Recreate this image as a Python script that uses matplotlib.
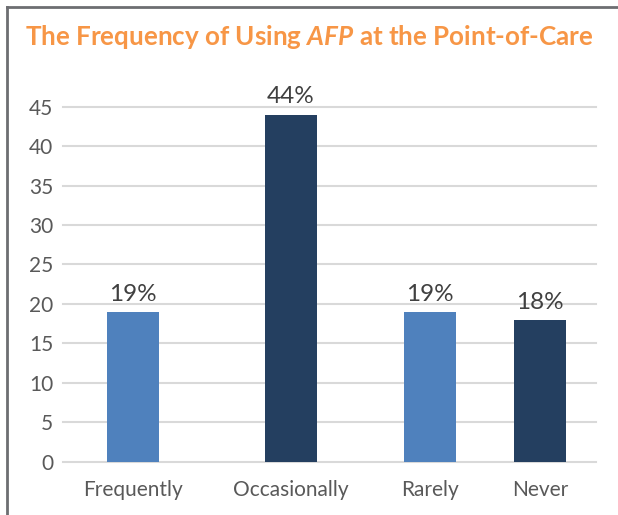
import matplotlib
matplotlib.use("Agg")
import matplotlib.pyplot as plt
from matplotlib.lines import Line2D

categories = ["Frequently", "Occasionally", "Rarely", "Never"]
values = [19, 44, 19, 18]
value_labels = ["19%", "44%", "19%", "18%"]
yticks = [0, 5, 10, 15, 20, 25, 30, 35, 40, 45]

# layout (not data)
positions = [70, 228, 367, 477]
bar_colors = ["#4F81BD", "#243F60", "#4F81BD", "#243F60"]

plt.rcParams['font.family'] = ['Lato', 'DejaVu Sans']
plt.rcParams['mathtext.fontset'] = 'custom'
plt.rcParams['mathtext.it'] = 'Lato:italic:bold'
plt.rcParams['mathtext.rm'] = 'Lato:bold'
plt.rcParams['mathtext.bf'] = 'Lato:bold'

fig = plt.figure(figsize=(6.18, 5.15), dpi=100)
ax = fig.add_axes([63/618, 53.3/515, (596-63)/618, (461.7-106.7)/515])

ax.bar(positions, values, width=52, color=bar_colors, zorder=3)
for x, v, lab in zip(positions, values, value_labels):
    ax.text(x, v + 0.9, lab, ha='center', va='bottom', fontsize=17.5,
            color='#404040')

ax.set_xlim(0, 533)
ax.set_ylim(0, 45)
ax.set_yticks(yticks)
ax.set_xticks(positions)
ax.set_xticklabels(categories)
ax.yaxis.grid(True, color='#D9D9D9', linewidth=1.5, zorder=0)
ax.set_axisbelow(True)
for s in ax.spines.values():
    s.set_visible(False)
ax.tick_params(axis='both', length=0, labelsize=15, labelcolor='#595959')
ax.tick_params(axis='y', pad=7)
ax.tick_params(axis='x', pad=13)
for gl in ax.get_ygridlines():
    gl.set_clip_on(False)

fig.text(25/618, 1 - 37/515, "The Frequency of Using $\\mathit{AFP}$ at the Point-of-Care",
         ha='left', va='center', fontsize=18.7, fontweight='bold', color='#F79646')

fig.add_artist(Line2D([7/618, 1], [1 - 7/515, 1 - 7/515], color='#6D6E71', linewidth=2, transform=fig.transFigure))
fig.add_artist(Line2D([7/618, 7/618], [0, 1 - 7/515], color='#6D6E71', linewidth=2, transform=fig.transFigure))

fig.savefig("out.png", dpi=100)
